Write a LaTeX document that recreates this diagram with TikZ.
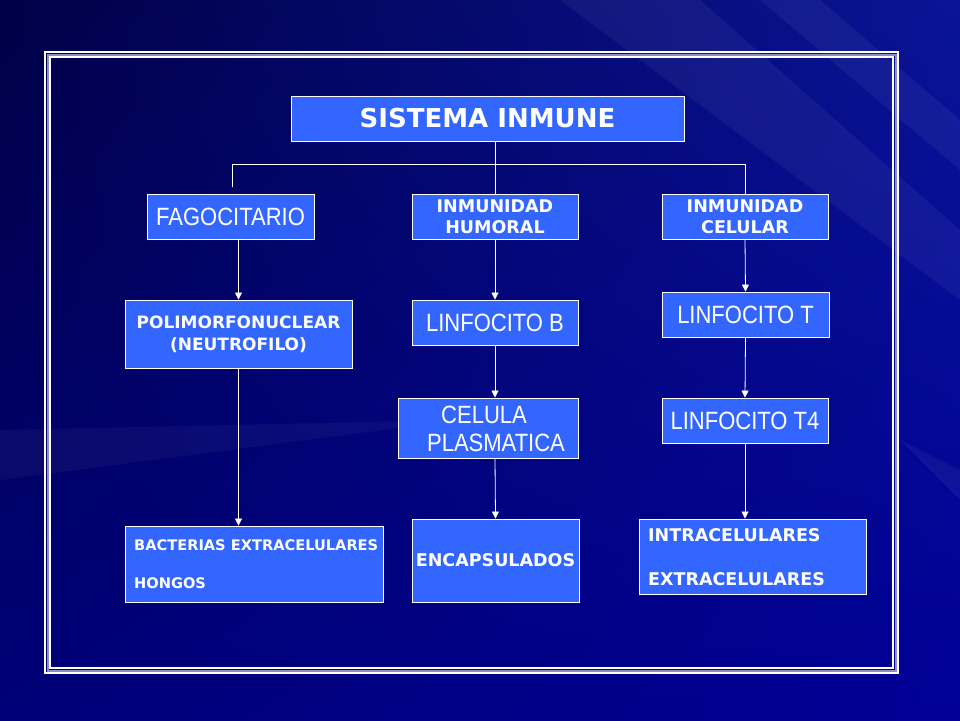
\documentclass[tikz,border=0pt]{standalone}
\usepackage{fontspec}
\setmainfont{Liberation Sans}
\newfontfamily\regf[FakeStretch=0.88]{Liberation Sans}
\newfontfamily\bldf{DejaVu Sans}
\usetikzlibrary{arrows.meta,shadings}
\definecolor{boxblue}{RGB}{51,102,255}
\definecolor{lav}{RGB}{140,140,200}
\definecolor{bgUL}{RGB}{0,0,70}
\definecolor{bgUR}{RGB}{10,20,150}
\definecolor{bgLL}{RGB}{0,0,120}
\definecolor{bgLR}{RGB}{0,0,150}
\begin{document}
\begin{tikzpicture}[x=1pt,y=-1pt,
  box/.style={draw=white, line width=0.9pt, fill=boxblue, text=white, inner sep=0pt, align=center},
  txt/.style={text=white, inner sep=0pt},
  conn/.style={draw=white, line width=0.8pt},
  arr/.style={conn, -{Triangle[width=7pt,length=7pt]}},
  reg/.style={font=\regf\fontsize{25}{28}\selectfont},
  bld/.style={font=\bldf\bfseries\fontsize{17.5}{21}\selectfont}]
\useasboundingbox (0,0) rectangle (960,720);
% background
\shade[upper left=bgUL, upper right=bgUR, lower left=bgLL, lower right=bgLR]
  (0,0) rectangle (960,720);
\fill[white, opacity=0.05] (560,0) -- (700,0) -- (960,230) -- (960,300) -- cycle;
\fill[white, opacity=0.05] (760,0) -- (820,0) -- (960,120) -- (960,170) -- cycle;
\fill[white, opacity=0.04] (0,430) -- (0,480) -- (460,420) -- cycle;
\fill[white, opacity=0.05] (900,440) -- (960,470) -- (960,500) -- cycle;
% frame
\draw[white, line width=1.5pt] (45,52) rectangle (898,673);
\draw[lav, line width=2pt] (47.5,54.5) rectangle (895.5,670.5);
\draw[white, line width=1.5pt] (50,57) rectangle (893,668);
% boxes
\node[box, minimum width=393, minimum height=45, font=\bldf\bfseries\fontsize{26}{30}\selectfont] (sis) at (487.5,118.5) {SISTEMA INMUNE};
\node[box, reg, minimum width=167, minimum height=45] (fag) at (230.5,216.5) {FAGOCITARIO};
\node[box, bld, minimum width=166, minimum height=45] (hum) at (495,216.5) {INMUNIDAD\\HUMORAL};
\node[box, bld, minimum width=166, minimum height=45] (cel) at (745,216.5) {INMUNIDAD\\CELULAR};
\node[box, bld, minimum width=227, minimum height=68, font=\bldf\bfseries\fontsize{17}{22}\selectfont] (poly) at (238.5,334) {POLIMORFONUCLEAR\\(NEUTROFILO)};
\node[box, reg, minimum width=166, minimum height=45] (linb) at (495,322.5) {LINFOCITO B};
\node[box, reg, minimum width=167, minimum height=45] (lint) at (745.5,314.5) {LINFOCITO T};
\node[box, minimum width=180, minimum height=60] (cpl) at (488,428) {};
\node[txt, reg] (cpl1) at (484,415) {CELULA};
\node[txt, reg] (cpl2) at (496,442.5) {PLASMATICA};
\node[box, reg, minimum width=166, minimum height=45] (lt4) at (745,420.5) {LINFOCITO T4};
\node[box, minimum width=258, minimum height=76] (bact) at (254,564) {};
\node[txt, anchor=west, font=\bldf\bfseries\fontsize{14.6}{16}\selectfont] (bt1) at (134,545) {BACTERIAS EXTRACELULARES};
\node[txt, anchor=west, font=\bldf\bfseries\fontsize{14.6}{16}\selectfont] (bt2) at (134,583.5) {HONGOS};
\node[box, bld, minimum width=167, minimum height=83] (enc) at (495.5,560.5) {ENCAPSULADOS};
\node[box, minimum width=227, minimum height=75] (intra) at (752.5,556.5) {};
\node[txt, bld, anchor=west] (it1) at (648,535) {INTRACELULARES};
\node[txt, bld, anchor=west] (it2) at (648,579) {EXTRACELULARES};
% connectors
\coordinate (jL) at (232,164);
\coordinate (jR) at (745,164);
\coordinate (jLend) at (232,187);
\draw[conn] (hum.north |- sis.south) -- (hum.north);
\draw[conn] (jLend) -- (jL) -- (jR) -- (cel.north);
\draw[arr] (poly.north |- fag.south) -- (poly.north);
\draw[arr] (poly.south) -- (poly.south |- bact.north);
\draw[arr] (hum.south) -- (linb.north);
\draw[arr] (linb.south) -- (linb.south |- cpl.north);
\draw[arr] (linb.south |- cpl.south) -- (enc.north);
\draw[arr] (cel.south) -- (lint.north);
\draw[arr] (lint.south) -- (lt4.north);
\draw[arr] (lt4.south) -- (lt4.south |- intra.north);
\end{tikzpicture}
\end{document}
